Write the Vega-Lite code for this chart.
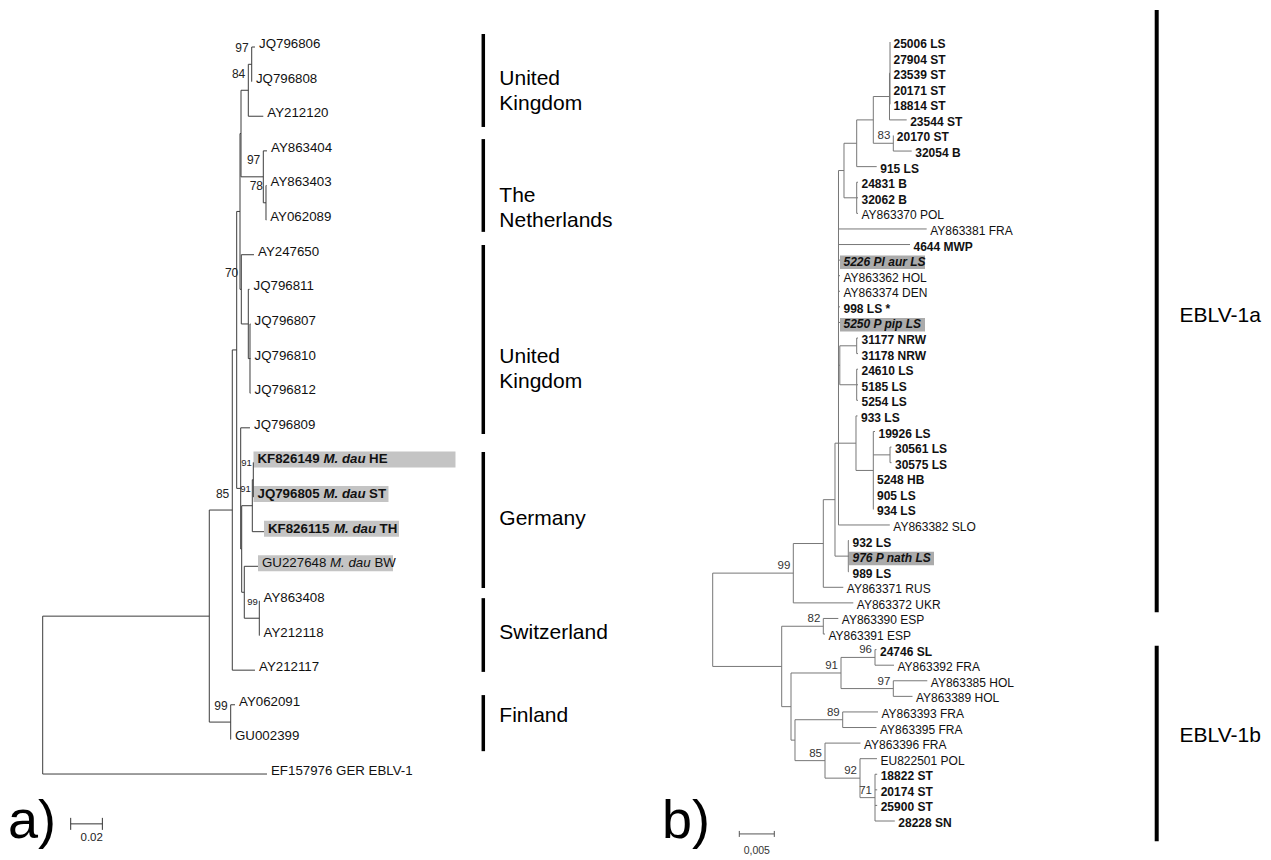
{
"$schema": "https://vega.github.io/schema/vega-lite/v6.json",
"padding": 0,
"spacing": 0,
"background": "white",
"config": {"view": {"stroke": null}, "font": "Liberation Sans"},
"datasets": {
"nodesA": [
{"id":"rootA","parent":null,"x":0,"y":18.72},
{"id":"nA85","parent":"rootA","x":0.10524,"y":16.44},
{"id":"nAa","parent":"nA85","x":0.11977,"y":13.375,"bs":"85"},
{"id":"nAfin","parent":"nA85","x":0.11876,"y":19.5,"bs":"99"},
{"id":"nAb","parent":"nAa","x":0.12255,"y":8.75},
{"id":"nAc","parent":"nAb","x":0.12464,"y":4.75},
{"id":"nAd","parent":"nAb","x":0.12508,"y":12.75},
{"id":"nA3","parent":"nAc","x":0.12527,"y":2.5},
{"id":"nAuk2","parent":"nAc","x":0.12546,"y":7,"bs":"70"},
{"id":"nA2","parent":"nA3","x":0.12988,"y":1.25,"bs":"84"},
{"id":"nA1","parent":"nA2","x":0.13203,"y":0.5,"bs":"97"},
{"id":"nA4","parent":"nA3","x":0.13936,"y":3.75,"bs":"97"},
{"id":"nA5","parent":"nA4","x":0.14106,"y":4.5,"bs":"78"},
{"id":"nAe","parent":"nAuk2","x":0.12988,"y":8},
{"id":"nAf","parent":"nAe","x":0.13095,"y":9},
{"id":"nAk","parent":"nAd","x":0.12571,"y":14.5},
{"id":"nAh","parent":"nAk","x":0.13241,"y":13.25,"bs":"91"},
{"id":"nAg","parent":"nAh","x":0.13304,"y":12.5,"bs":"91"},
{"id":"nAsg","parent":"nAk","x":0.12735,"y":15.75},
{"id":"nAsw","parent":"nAsg","x":0.13683,"y":16.5,"bs":"99"},
{"id":"JQ796806","parent":"nA1","x":0.13411,"y":0,"name":"JQ796806","src":"ref"},
{"id":"JQ796808","parent":"nA1","x":0.13215,"y":1,"name":"JQ796808","src":"ref"},
{"id":"AY212120","parent":"nA2","x":0.13936,"y":2,"name":"AY212120","src":"ref"},
{"id":"AY863404","parent":"nA4","x":0.14169,"y":3,"name":"AY863404","src":"ref"},
{"id":"AY863403","parent":"nA5","x":0.14138,"y":4,"name":"AY863403","src":"ref"},
{"id":"AY062089","parent":"nA5","x":0.14119,"y":5,"name":"AY062089","src":"ref"},
{"id":"AY247650","parent":"nAuk2","x":0.13348,"y":6,"name":"AY247650","src":"ref"},
{"id":"JQ796811","parent":"nAe","x":0.13064,"y":7,"name":"JQ796811","src":"ref"},
{"id":"JQ796807","parent":"nAf","x":0.13127,"y":8,"name":"JQ796807","src":"ref"},
{"id":"JQ796810","parent":"nAf","x":0.13127,"y":9,"name":"JQ796810","src":"ref"},
{"id":"JQ796812","parent":"nAf","x":0.13127,"y":10,"name":"JQ796812","src":"ref"},
{"id":"JQ796809","parent":"nAd","x":0.13095,"y":11,"name":"JQ796809","src":"ref"},
{"id":"KF826149","parent":"nAg","x":0.13316,"y":12,"name":"KF826149","host":"M. dau","reg":"HE","src":"new","hl":true},
{"id":"JQ796805","parent":"nAg","x":0.13316,"y":13,"name":"JQ796805","host":"M. dau","reg":"ST","src":"new","hl":true},
{"id":"KF826115","parent":"nAh","x":0.1398,"y":14,"name":"KF826115","host":"M. dau","reg":"TH","src":"new","hl":true},
{"id":"GU227648","parent":"nAsg","x":0.13601,"y":15,"name":"GU227648","host":"M. dau","reg":"BW","src":"ref","hl":true},
{"id":"AY863408","parent":"nAsw","x":0.13696,"y":16,"name":"AY863408","src":"ref"},
{"id":"AY212118","parent":"nAsw","x":0.13696,"y":17,"name":"AY212118","src":"ref"},
{"id":"AY212117","parent":"nAa","x":0.13411,"y":18,"name":"AY212117","src":"ref"},
{"id":"AY062091","parent":"nAfin","x":0.12148,"y":19,"name":"AY062091","src":"ref"},
{"id":"GU002399","parent":"nAfin","x":0.11895,"y":20,"name":"GU002399","src":"ref"},
{"id":"EF157976","parent":"rootA","x":0.14169,"y":21,"name":"EF157976 GER EBLV-1","src":"ref"}
],
"nodesB": [
{"id":"rootB","parent":null,"x":0,"y":37.09},
{"id":"D3","parent":"rootB","x":0.011514,"y":34.09,"bs":"99"},
{"id":"E0","parent":"rootB","x":0.009857,"y":40.08},
{"id":"D2","parent":"D3","x":0.0158,"y":32.19},
{"id":"D1","parent":"D2","x":0.017471,"y":29.375},
{"id":"B1","parent":"D1","x":0.017971,"y":25.75},
{"id":"Dn","parent":"D1","x":0.019371,"y":33},
{"id":"A5","parent":"B1","x":0.018757,"y":8.25},
{"id":"A4","parent":"A5","x":0.020571,"y":6.5},
{"id":"A6","parent":"A5","x":0.020571,"y":10},
{"id":"A2","parent":"A4","x":0.022943,"y":5},
{"id":"A1","parent":"A2","x":0.025257,"y":3.5},
{"id":"A0","parent":"A1","x":0.025329,"y":2},
{"id":"A3","parent":"A2","x":0.0258,"y":6.5,"bs":"83"},
{"id":"C1","parent":"B1","x":0.018157,"y":20.75},
{"id":"Nnrw","parent":"C1","x":0.020571,"y":19.5},
{"id":"Nls","parent":"C1","x":0.020571,"y":22},
{"id":"C2","parent":"B1","x":0.020471,"y":25.75},
{"id":"C3","parent":"C2","x":0.022943,"y":27.5},
{"id":"C4","parent":"C3","x":0.025329,"y":26.5},
{"id":"E1","parent":"E0","x":0.0158,"y":37.5,"bs":"82"},
{"id":"E2","parent":"E0","x":0.011186,"y":42.66},
{"id":"E3","parent":"E2","x":0.018329,"y":40.5,"bs":"91"},
{"id":"E5","parent":"E3","x":0.023186,"y":39.5,"bs":"96"},
{"id":"E6","parent":"E3","x":0.0258,"y":41.5,"bs":"97"},
{"id":"E4","parent":"E2","x":0.011757,"y":44.81},
{"id":"E7","parent":"E4","x":0.018571,"y":43.5,"bs":"89"},
{"id":"E8","parent":"E4","x":0.016043,"y":46.125,"bs":"85"},
{"id":"E9","parent":"E8","x":0.021043,"y":47.25,"bs":"92"},
{"id":"E10","parent":"E9","x":0.023186,"y":48.5,"bs":"71"},
{"id":"b0","parent":"A0","x":0.025329,"y":0,"name":"25006 LS","src":"new"},
{"id":"b1","parent":"A0","x":0.025329,"y":1,"name":"27904 ST","src":"new"},
{"id":"b2","parent":"A0","x":0.025329,"y":2,"name":"23539 ST","src":"new"},
{"id":"b3","parent":"A0","x":0.025329,"y":3,"name":"20171 ST","src":"new"},
{"id":"b4","parent":"A0","x":0.025329,"y":4,"name":"18814 ST","src":"new"},
{"id":"b5","parent":"A1","x":0.027714,"y":5,"name":"23544 ST","src":"new"},
{"id":"b6","parent":"A3","x":0.0258,"y":6,"name":"20170 ST","src":"new"},
{"id":"b7","parent":"A3","x":0.028429,"y":7,"name":"32054 B","src":"new"},
{"id":"b8","parent":"A4","x":0.023429,"y":8,"name":"915 LS","src":"new"},
{"id":"b9","parent":"A6","x":0.020757,"y":9,"name":"24831 B","src":"new"},
{"id":"b10","parent":"A6","x":0.020757,"y":10,"name":"32062 B","src":"new"},
{"id":"b11","parent":"A6","x":0.020757,"y":11,"name":"AY863370 POL","src":"ref"},
{"id":"b12","parent":"B1","x":0.030571,"y":12,"name":"AY863381 FRA","src":"ref"},
{"id":"b13","parent":"B1","x":0.028186,"y":13,"name":"4644 MWP","src":"new"},
{"id":"b14","parent":"B1","x":0.018186,"y":14,"name":"5226 Pl aur LS","src":"new","hl":true},
{"id":"b15","parent":"B1","x":0.018186,"y":15,"name":"AY863362 HOL","src":"ref"},
{"id":"b16","parent":"B1","x":0.018186,"y":16,"name":"AY863374 DEN","src":"ref"},
{"id":"b17","parent":"B1","x":0.018186,"y":17,"name":"998 LS *","src":"new"},
{"id":"b18","parent":"B1","x":0.018186,"y":18,"name":"5250 P pip LS","src":"new","hl":true},
{"id":"b19","parent":"Nnrw","x":0.020757,"y":19,"name":"31177 NRW","src":"new"},
{"id":"b20","parent":"Nnrw","x":0.020757,"y":20,"name":"31178 NRW","src":"new"},
{"id":"b21","parent":"Nls","x":0.020757,"y":21,"name":"24610 LS","src":"new"},
{"id":"b22","parent":"Nls","x":0.020757,"y":22,"name":"5185 LS","src":"new"},
{"id":"b23","parent":"Nls","x":0.020757,"y":23,"name":"5254 LS","src":"new"},
{"id":"b24","parent":"C2","x":0.020686,"y":24,"name":"933 LS","src":"new"},
{"id":"b25","parent":"C3","x":0.023186,"y":25,"name":"19926 LS","src":"new"},
{"id":"b26","parent":"C4","x":0.025543,"y":26,"name":"30561 LS","src":"new"},
{"id":"b27","parent":"C4","x":0.025543,"y":27,"name":"30575 LS","src":"new"},
{"id":"b28","parent":"C3","x":0.022971,"y":28,"name":"5248 HB","src":"new"},
{"id":"b29","parent":"C3","x":0.022971,"y":29,"name":"905 LS","src":"new"},
{"id":"b30","parent":"C3","x":0.022971,"y":30,"name":"934 LS","src":"new"},
{"id":"b31","parent":"B1","x":0.0253,"y":31,"name":"AY863382 SLO","src":"ref"},
{"id":"b32","parent":"Dn","x":0.019471,"y":32,"name":"932 LS","src":"new"},
{"id":"b33","parent":"Dn","x":0.019471,"y":33,"name":"976 P nath LS","src":"new","hl":true},
{"id":"b34","parent":"Dn","x":0.019471,"y":34,"name":"989 LS","src":"new"},
{"id":"b35","parent":"D2","x":0.018657,"y":35,"name":"AY863371 RUS","src":"ref"},
{"id":"b36","parent":"D3","x":0.020086,"y":36,"name":"AY863372 UKR","src":"ref"},
{"id":"b37","parent":"E1","x":0.017943,"y":37,"name":"AY863390 ESP","src":"ref"},
{"id":"b38","parent":"E1","x":0.016043,"y":38,"name":"AY863391 ESP","src":"ref"},
{"id":"b39","parent":"E5","x":0.0234,"y":39,"name":"24746 SL","src":"new"},
{"id":"b40","parent":"E5","x":0.0259,"y":40,"name":"AY863392 FRA","src":"ref"},
{"id":"b41","parent":"E6","x":0.030657,"y":41,"name":"AY863385 HOL","src":"ref"},
{"id":"b42","parent":"E6","x":0.028543,"y":42,"name":"AY863389 HOL","src":"ref"},
{"id":"b43","parent":"E7","x":0.023614,"y":43,"name":"AY863393 FRA","src":"ref"},
{"id":"b44","parent":"E7","x":0.0234,"y":44,"name":"AY863395 FRA","src":"ref"},
{"id":"b45","parent":"E8","x":0.021114,"y":45,"name":"AY863396 FRA","src":"ref"},
{"id":"b46","parent":"E9","x":0.023471,"y":46,"name":"EU822501 POL","src":"ref"},
{"id":"b47","parent":"E10","x":0.0235,"y":47,"name":"18822 ST","src":"new"},
{"id":"b48","parent":"E10","x":0.0235,"y":48,"name":"20174 ST","src":"new"},
{"id":"b49","parent":"E10","x":0.0235,"y":49,"name":"25900 ST","src":"new"},
{"id":"b50","parent":"E10","x":0.026014,"y":50,"name":"28228 SN","src":"new"}
],
"cladesA": [
{"clade":"United\nKingdom","from":-0.375,"to":2.31,"ly":0.92},
{"clade":"The\nNetherlands","from":2.66,"to":5.34,"ly":4.3},
{"clade":"United\nKingdom","from":5.72,"to":11.18,"ly":8.95},
{"clade":"Germany","from":11.7,"to":15.63,"ly":13.63},
{"clade":"Switzerland","from":15.92,"to":18.05,"ly":16.92},
{"clade":"Finland","from":18.72,"to":20.34,"ly":19.31}
],
"cladesB": [
{"clade":"EBLV-1a","from":-2.05,"to":36.6,"ly":17.59},
{"clade":"EBLV-1b","from":38.75,"to":51.3,"ly":44.54}
],
"scaleA": [{"x0":0.01769,"x1":0.03769,"y":22.44,"label":"0.02"}],
"scaleB": [{"x0":0.0038,"x1":0.0088,"y":50.83,"label":"0,005"}],
"lettersA": [{"t":"a)","x":-0.0219,"y":22.85}],
"lettersB": [{"t":"b)","x":-0.00724,"y":51.09}]
},
"hconcat": [
{
"width": 660, "height": 860,
"layer": [
{"data":{"name":"nodesA"},"transform":[{"filter":"datum.hl === true && datum.id !== 'KF826149'"}],
 "mark":{"type":"rect","color":"#c4c4c4","x2Offset":135,"yOffset":-11,"y2Offset":5},
 "encoding":{"x":{"field":"x","type":"quantitative","scale":{"domain":[-0.026974,0.389956],"nice":false,"zero":false},"axis":null},"x2":{"field":"x"},
  "y":{"field":"y","type":"quantitative","scale":{"domain":[-1.3576,23.4835],"nice":false,"zero":false,"reverse":true},"axis":null},"y2":{"field":"y"}}},
{"data":{"name":"nodesA"},"transform":[{"filter":"datum.id === 'KF826149'"}],
 "mark":{"type":"rect","color":"#c4c4c4","x2Offset":202,"yOffset":-11,"y2Offset":5},
 "encoding":{"x":{"field":"x","type":"quantitative","scale":{"domain":[-0.026974,0.389956],"nice":false,"zero":false},"axis":null},"x2":{"field":"x"},
  "y":{"field":"y","type":"quantitative","scale":{"domain":[-1.3576,23.4835],"nice":false,"zero":false,"reverse":true},"axis":null},"y2":{"field":"y"}}},
{"data":{"name":"nodesA"},"transform":[{"filter":"datum.parent != null"},{"lookup":"parent","from":{"data":{"name":"nodesA"},"key":"id","fields":["x"]},"as":["px"]}],
 "mark":{"type":"rule","color":"#3c3c3c","strokeWidth":1},
 "encoding":{"x":{"field":"px","type":"quantitative","scale":{"domain":[-0.026974,0.389956],"nice":false,"zero":false},"axis":null},"x2":{"field":"x"},
  "y":{"field":"y","type":"quantitative","scale":{"domain":[-1.3576,23.4835],"nice":false,"zero":false,"reverse":true},"axis":null}}},
{"data":{"name":"nodesA"},"transform":[{"filter":"datum.parent != null"},{"aggregate":[{"op":"min","field":"y","as":"y0"},{"op":"max","field":"y","as":"y1"}],"groupby":["parent"]},{"lookup":"parent","from":{"data":{"name":"nodesA"},"key":"id","fields":["x"]},"as":["px"]}],
 "mark":{"type":"rule","color":"#3c3c3c","strokeWidth":1},
 "encoding":{"x":{"field":"px","type":"quantitative","scale":{"domain":[-0.026974,0.389956],"nice":false,"zero":false},"axis":null},
  "y":{"field":"y0","type":"quantitative","scale":{"domain":[-1.3576,23.4835],"nice":false,"zero":false,"reverse":true},"axis":null},"y2":{"field":"y1"}}},
{"data":{"name":"nodesA"},"transform":[{"filter":"isValid(datum.name) && !datum.hl"}],
 "mark":{"type":"text","align":"left","baseline":"middle","dx":4,"dy":-3,"fontSize":13.3,"color":"#111"},
 "encoding":{"x":{"field":"x","type":"quantitative","scale":{"domain":[-0.026974,0.389956],"nice":false,"zero":false},"axis":null},
  "y":{"field":"y","type":"quantitative","scale":{"domain":[-1.3576,23.4835],"nice":false,"zero":false,"reverse":true},"axis":null},"text":{"field":"name"}}},
{"data":{"name":"nodesA"},"transform":[{"filter":"datum.hl === true && datum.src === 'new'"}],
 "mark":{"type":"text","align":"left","baseline":"middle","dx":4,"dy":-3,"fontSize":13.3,"fontWeight":"bold","color":"#111"},
 "encoding":{"x":{"field":"x","type":"quantitative","scale":{"domain":[-0.026974,0.389956],"nice":false,"zero":false},"axis":null},
  "y":{"field":"y","type":"quantitative","scale":{"domain":[-1.3576,23.4835],"nice":false,"zero":false,"reverse":true},"axis":null},"text":{"field":"name"}}},
{"data":{"name":"nodesA"},"transform":[{"filter":"datum.hl === true && datum.src === 'new'"}],
 "mark":{"type":"text","align":"left","baseline":"middle","dx":70,"dy":-3,"fontSize":13.3,"fontWeight":"bold","fontStyle":"italic","color":"#111"},
 "encoding":{"x":{"field":"x","type":"quantitative","scale":{"domain":[-0.026974,0.389956],"nice":false,"zero":false},"axis":null},
  "y":{"field":"y","type":"quantitative","scale":{"domain":[-1.3576,23.4835],"nice":false,"zero":false,"reverse":true},"axis":null},"text":{"field":"host"}}},
{"data":{"name":"nodesA"},"transform":[{"filter":"datum.hl === true && datum.src === 'new'"}],
 "mark":{"type":"text","align":"left","baseline":"middle","dx":115.6,"dy":-3,"fontSize":13.3,"fontWeight":"bold","color":"#111"},
 "encoding":{"x":{"field":"x","type":"quantitative","scale":{"domain":[-0.026974,0.389956],"nice":false,"zero":false},"axis":null},
  "y":{"field":"y","type":"quantitative","scale":{"domain":[-1.3576,23.4835],"nice":false,"zero":false,"reverse":true},"axis":null},"text":{"field":"reg"}}},
{"data":{"name":"nodesA"},"transform":[{"filter":"datum.hl === true && datum.src === 'ref'"}],
 "mark":{"type":"text","align":"left","baseline":"middle","dx":4,"dy":-3,"fontSize":13.3,"color":"#111"},
 "encoding":{"x":{"field":"x","type":"quantitative","scale":{"domain":[-0.026974,0.389956],"nice":false,"zero":false},"axis":null},
  "y":{"field":"y","type":"quantitative","scale":{"domain":[-1.3576,23.4835],"nice":false,"zero":false,"reverse":true},"axis":null},"text":{"field":"name"}}},
{"data":{"name":"nodesA"},"transform":[{"filter":"datum.hl === true && datum.src === 'ref'"}],
 "mark":{"type":"text","align":"left","baseline":"middle","dx":72,"dy":-3,"fontSize":13.3,"fontStyle":"italic","color":"#111"},
 "encoding":{"x":{"field":"x","type":"quantitative","scale":{"domain":[-0.026974,0.389956],"nice":false,"zero":false},"axis":null},
  "y":{"field":"y","type":"quantitative","scale":{"domain":[-1.3576,23.4835],"nice":false,"zero":false,"reverse":true},"axis":null},"text":{"field":"host"}}},
{"data":{"name":"nodesA"},"transform":[{"filter":"datum.hl === true && datum.src === 'ref'"}],
 "mark":{"type":"text","align":"left","baseline":"middle","dx":116.4,"dy":-3,"fontSize":13.3,"color":"#111"},
 "encoding":{"x":{"field":"x","type":"quantitative","scale":{"domain":[-0.026974,0.389956],"nice":false,"zero":false},"axis":null},
  "y":{"field":"y","type":"quantitative","scale":{"domain":[-1.3576,23.4835],"nice":false,"zero":false,"reverse":true},"axis":null},"text":{"field":"reg"}}},
{"data":{"name":"nodesA"},"transform":[{"filter":{"and":[{"field":"bs","valid":true},{"not":{"field":"id","oneOf":["nAg","nAh","nAsw"]}}]}}],
 "mark":{"type":"text","align":"right","baseline":"middle","dx":-3,"dy":-16.5,"fontSize":12,"color":"#222"},
 "encoding":{"x":{"field":"x","type":"quantitative","scale":{"domain":[-0.026974,0.389956],"nice":false,"zero":false},"axis":null},
  "y":{"field":"y","type":"quantitative","scale":{"domain":[-1.3576,23.4835],"nice":false,"zero":false,"reverse":true},"axis":null},"text":{"field":"bs","type":"nominal"}}},
{"data":{"name":"nodesA"},"transform":[{"filter":{"field":"id","oneOf":["nAg","nAh","nAsw"]}}],
 "mark":{"type":"text","align":"right","baseline":"middle","dx":-1.5,"dy":-16.5,"fontSize":9.5,"color":"#222"},
 "encoding":{"x":{"field":"x","type":"quantitative","scale":{"domain":[-0.026974,0.389956],"nice":false,"zero":false},"axis":null},
  "y":{"field":"y","type":"quantitative","scale":{"domain":[-1.3576,23.4835],"nice":false,"zero":false,"reverse":true},"axis":null},"text":{"field":"bs","type":"nominal"}}},
{"data":{"name":"cladesA"},
 "mark":{"type":"rule","color":"#000","strokeWidth":3.5},
 "encoding":{"x":{"datum":0.27833,"type":"quantitative","scale":{"domain":[-0.026974,0.389956],"nice":false,"zero":false},"axis":null},
  "y":{"field":"from","type":"quantitative","scale":{"domain":[-1.3576,23.4835],"nice":false,"zero":false,"reverse":true},"axis":null},"y2":{"field":"to"}}},
{"data":{"name":"cladesA"},
 "mark":{"type":"text","align":"left","baseline":"middle","fontSize":21,"lineBreak":"\n","lineHeight":25.6,"color":"#000"},
 "encoding":{"x":{"datum":0.28844,"type":"quantitative","scale":{"domain":[-0.026974,0.389956],"nice":false,"zero":false},"axis":null},
  "y":{"field":"ly","type":"quantitative","scale":{"domain":[-1.3576,23.4835],"nice":false,"zero":false,"reverse":true},"axis":null},"text":{"field":"clade"}}},
{"data":{"name":"scaleA"},
 "mark":{"type":"rule","color":"#333","strokeWidth":1},
 "encoding":{"x":{"field":"x0","type":"quantitative","scale":{"domain":[-0.026974,0.389956],"nice":false,"zero":false},"axis":null},"x2":{"field":"x1"},
  "y":{"field":"y","type":"quantitative","scale":{"domain":[-1.3576,23.4835],"nice":false,"zero":false,"reverse":true},"axis":null}}},
{"data":{"name":"scaleA"},"transform":[{"fold":["x0","x1"],"as":["k","xv"]}],
 "mark":{"type":"rule","color":"#333","strokeWidth":1,"yOffset":-6,"y2Offset":6},
 "encoding":{"x":{"field":"xv","type":"quantitative","scale":{"domain":[-0.026974,0.389956],"nice":false,"zero":false},"axis":null},
  "y":{"field":"y","type":"quantitative","scale":{"domain":[-1.3576,23.4835],"nice":false,"zero":false,"reverse":true},"axis":null},"y2":{"field":"y"}}},
{"data":{"name":"scaleA"},
 "mark":{"type":"text","align":"center","baseline":"middle","dx":21,"dy":14,"fontSize":11.5,"color":"#222"},
 "encoding":{"x":{"field":"x0","type":"quantitative","scale":{"domain":[-0.026974,0.389956],"nice":false,"zero":false},"axis":null},
  "y":{"field":"y","type":"quantitative","scale":{"domain":[-1.3576,23.4835],"nice":false,"zero":false,"reverse":true},"axis":null},"text":{"field":"label"}}},
{"data":{"name":"lettersA"},
 "mark":{"type":"text","align":"left","baseline":"alphabetic","fontSize":54,"color":"#000"},
 "encoding":{"x":{"field":"x","type":"quantitative","scale":{"domain":[-0.026974,0.389956],"nice":false,"zero":false},"axis":null},
  "y":{"field":"y","type":"quantitative","scale":{"domain":[-1.3576,23.4835],"nice":false,"zero":false,"reverse":true},"axis":null},"text":{"field":"t"}}}
]
},
{
"width": 611, "height": 860,
"layer": [
{"data":{"name":"nodesB"},"transform":[{"filter":"datum.hl === true"}],
 "mark":{"type":"rect","color":"#ababab","x2Offset":85,"yOffset":-4.5,"y2Offset":9},
 "encoding":{"x":{"field":"x","type":"quantitative","scale":{"domain":[-0.0075286,0.0797571],"nice":false,"zero":false},"axis":null},"x2":{"field":"x"},
  "y":{"field":"y","type":"quantitative","scale":{"domain":[-2.6958,52.5032],"nice":false,"zero":false,"reverse":true},"axis":null},"y2":{"field":"y"}}},
{"data":{"name":"nodesB"},"transform":[{"filter":"datum.parent != null"},{"lookup":"parent","from":{"data":{"name":"nodesB"},"key":"id","fields":["x"]},"as":["px"]}],
 "mark":{"type":"rule","color":"#777","strokeWidth":1},
 "encoding":{"x":{"field":"px","type":"quantitative","scale":{"domain":[-0.0075286,0.0797571],"nice":false,"zero":false},"axis":null},"x2":{"field":"x"},
  "y":{"field":"y","type":"quantitative","scale":{"domain":[-2.6958,52.5032],"nice":false,"zero":false,"reverse":true},"axis":null}}},
{"data":{"name":"nodesB"},"transform":[{"filter":"datum.parent != null"},{"aggregate":[{"op":"min","field":"y","as":"y0"},{"op":"max","field":"y","as":"y1"}],"groupby":["parent"]},{"lookup":"parent","from":{"data":{"name":"nodesB"},"key":"id","fields":["x"]},"as":["px"]}],
 "mark":{"type":"rule","color":"#777","strokeWidth":1},
 "encoding":{"x":{"field":"px","type":"quantitative","scale":{"domain":[-0.0075286,0.0797571],"nice":false,"zero":false},"axis":null},
  "y":{"field":"y0","type":"quantitative","scale":{"domain":[-2.6958,52.5032],"nice":false,"zero":false,"reverse":true},"axis":null},"y2":{"field":"y1"}}},
{"data":{"name":"nodesB"},"transform":[{"filter":"isValid(datum.name) && datum.src === 'ref'"}],
 "mark":{"type":"text","align":"left","baseline":"middle","dx":3.5,"dy":2,"fontSize":12,"color":"#111"},
 "encoding":{"x":{"field":"x","type":"quantitative","scale":{"domain":[-0.0075286,0.0797571],"nice":false,"zero":false},"axis":null},
  "y":{"field":"y","type":"quantitative","scale":{"domain":[-2.6958,52.5032],"nice":false,"zero":false,"reverse":true},"axis":null},"text":{"field":"name"}}},
{"data":{"name":"nodesB"},"transform":[{"filter":"isValid(datum.name) && datum.src === 'new' && !datum.hl"}],
 "mark":{"type":"text","align":"left","baseline":"middle","dx":3.5,"dy":2,"fontSize":12,"fontWeight":"bold","color":"#111"},
 "encoding":{"x":{"field":"x","type":"quantitative","scale":{"domain":[-0.0075286,0.0797571],"nice":false,"zero":false},"axis":null},
  "y":{"field":"y","type":"quantitative","scale":{"domain":[-2.6958,52.5032],"nice":false,"zero":false,"reverse":true},"axis":null},"text":{"field":"name"}}},
{"data":{"name":"nodesB"},"transform":[{"filter":"datum.hl === true"}],
 "mark":{"type":"text","align":"left","baseline":"middle","dx":3.5,"dy":2,"fontSize":12,"fontWeight":"bold","fontStyle":"italic","color":"#111"},
 "encoding":{"x":{"field":"x","type":"quantitative","scale":{"domain":[-0.0075286,0.0797571],"nice":false,"zero":false},"axis":null},
  "y":{"field":"y","type":"quantitative","scale":{"domain":[-2.6958,52.5032],"nice":false,"zero":false,"reverse":true},"axis":null},"text":{"field":"name"}}},
{"data":{"name":"nodesB"},"transform":[{"filter":{"field":"bs","valid":true}}],
 "mark":{"type":"text","align":"right","baseline":"middle","dx":-3,"dy":-7,"fontSize":11.5,"color":"#333"},
 "encoding":{"x":{"field":"x","type":"quantitative","scale":{"domain":[-0.0075286,0.0797571],"nice":false,"zero":false},"axis":null},
  "y":{"field":"y","type":"quantitative","scale":{"domain":[-2.6958,52.5032],"nice":false,"zero":false,"reverse":true},"axis":null},"text":{"field":"bs","type":"nominal"}}},
{"data":{"name":"cladesB"},
 "mark":{"type":"rule","color":"#000","strokeWidth":4},
 "encoding":{"x":{"datum":0.063429,"type":"quantitative","scale":{"domain":[-0.0075286,0.0797571],"nice":false,"zero":false},"axis":null},
  "y":{"field":"from","type":"quantitative","scale":{"domain":[-2.6958,52.5032],"nice":false,"zero":false,"reverse":true},"axis":null},"y2":{"field":"to"}}},
{"data":{"name":"cladesB"},
 "mark":{"type":"text","align":"left","baseline":"middle","fontSize":21,"color":"#000"},
 "encoding":{"x":{"datum":0.066686,"type":"quantitative","scale":{"domain":[-0.0075286,0.0797571],"nice":false,"zero":false},"axis":null},
  "y":{"field":"ly","type":"quantitative","scale":{"domain":[-2.6958,52.5032],"nice":false,"zero":false,"reverse":true},"axis":null},"text":{"field":"clade"}}},
{"data":{"name":"scaleB"},
 "mark":{"type":"rule","color":"#555","strokeWidth":1},
 "encoding":{"x":{"field":"x0","type":"quantitative","scale":{"domain":[-0.0075286,0.0797571],"nice":false,"zero":false},"axis":null},"x2":{"field":"x1"},
  "y":{"field":"y","type":"quantitative","scale":{"domain":[-2.6958,52.5032],"nice":false,"zero":false,"reverse":true},"axis":null}}},
{"data":{"name":"scaleB"},"transform":[{"fold":["x0","x1"],"as":["k","xv"]}],
 "mark":{"type":"rule","color":"#555","strokeWidth":1,"yOffset":-3,"y2Offset":3},
 "encoding":{"x":{"field":"xv","type":"quantitative","scale":{"domain":[-0.0075286,0.0797571],"nice":false,"zero":false},"axis":null},
  "y":{"field":"y","type":"quantitative","scale":{"domain":[-2.6958,52.5032],"nice":false,"zero":false,"reverse":true},"axis":null},"y2":{"field":"y"}}},
{"data":{"name":"scaleB"},
 "mark":{"type":"text","align":"center","baseline":"middle","dx":17.5,"dy":17,"fontSize":10.5,"color":"#333"},
 "encoding":{"x":{"field":"x0","type":"quantitative","scale":{"domain":[-0.0075286,0.0797571],"nice":false,"zero":false},"axis":null},
  "y":{"field":"y","type":"quantitative","scale":{"domain":[-2.6958,52.5032],"nice":false,"zero":false,"reverse":true},"axis":null},"text":{"field":"label"}}},
{"data":{"name":"lettersB"},
 "mark":{"type":"text","align":"left","baseline":"alphabetic","fontSize":54,"color":"#000"},
 "encoding":{"x":{"field":"x","type":"quantitative","scale":{"domain":[-0.0075286,0.0797571],"nice":false,"zero":false},"axis":null},
  "y":{"field":"y","type":"quantitative","scale":{"domain":[-2.6958,52.5032],"nice":false,"zero":false,"reverse":true},"axis":null},"text":{"field":"t"}}}
]
}
]
}
